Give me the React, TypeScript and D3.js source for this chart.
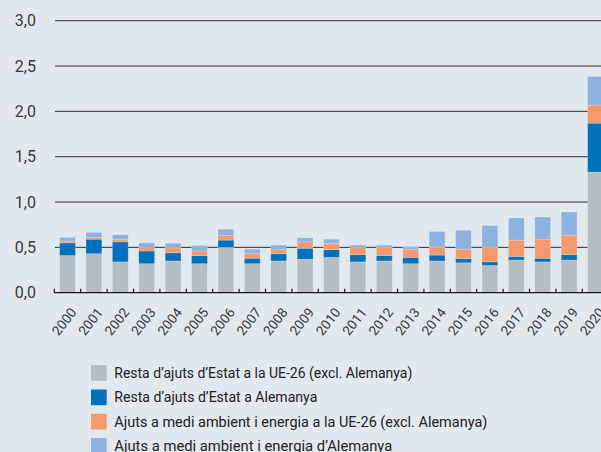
import React from "react";
import * as d3 from "d3";

const years = ["2000","2001","2002","2003","2004","2005","2006","2007","2008","2009","2010","2011","2012","2013","2014","2015","2016","2017","2018","2019","2020"];
const restaUE26 = [0.41,0.43,0.34,0.32,0.35,0.32,0.50,0.32,0.35,0.37,0.39,0.34,0.35,0.32,0.35,0.33,0.30,0.36,0.34,0.36,1.33];
const restaAlemanya = [0.14,0.16,0.22,0.14,0.09,0.09,0.08,0.06,0.08,0.12,0.085,0.08,0.06,0.07,0.065,0.045,0.04,0.04,0.04,0.06,0.54];
const mediUE26 = [0.02,0.02,0.03,0.04,0.055,0.05,0.05,0.05,0.05,0.07,0.07,0.08,0.09,0.085,0.09,0.105,0.16,0.18,0.21,0.21,0.20];
const mediAlemanya = [0.04,0.055,0.05,0.05,0.05,0.06,0.07,0.05,0.045,0.045,0.045,0.025,0.025,0.03,0.17,0.21,0.24,0.245,0.245,0.26,0.315];
const seriesNames = [
  "Resta d\u2019ajuts d\u2019Estat a la UE-26 (excl. Alemanya)",
  "Resta d\u2019ajuts d\u2019Estat a Alemanya",
  "Ajuts a medi ambient i energia a la UE-26 (excl. Alemanya)",
  "Ajuts a medi ambient i energia d\u2019Alemanya",
];
const colors = ["#b3bdc3", "#0071ba", "#f4996c", "#8db2df"];
const yTicks = [0, 0.5, 1, 1.5, 2, 2.5, 3];
const legendWidths = [298, 203, 373, 278];

export default function App() {
  const W = 601, H = 452;
  const y = d3.scaleLinear().domain([0, 3]).range([292.7, 20.7]);
  const x = d3.scaleBand().domain(years).range([54.3, 54.3 + 21 * 26.4]).paddingInner(0.4).paddingOuter(0.2);
  const step = x.step();
  const table = years.map((yr, i) => ({ year: yr, s0: restaUE26[i], s1: restaAlemanya[i], s2: mediUE26[i], s3: mediAlemanya[i] }));
  const stack = d3.stack<any>().keys(["s0", "s1", "s2", "s3"])(table);
  const fmt = (v: number) => v.toFixed(1).replace(".", ",");
  const font = "Roboto, 'Open Sans', sans-serif";
  return (
    <svg width={W} height={H} style={{ position: "absolute", left: 0, top: 0, background: "#e1e9ef" }}>
      <rect x={0} y={0} width={W} height={H} fill="#e1e9ef" />
      {yTicks.map((t) => (
        <g key={t}>
          {t > 0 && <line x1={55} x2={W} y1={y(t)} y2={y(t)} stroke="#2e2e2e" strokeWidth={1} />}
          <text x={36} y={y(t)} dy="0.35em" textAnchor="end" fontSize={16} fill="#3a3a3a" fontFamily={font}>{fmt(t)}</text>
        </g>
      ))}
      {stack.map((s, si) => (
        <g key={si} fill={colors[si]}>
          {s.map((d: any, i: number) => (
            <rect key={i} x={x(years[i])} width={x.bandwidth()} y={y(d[1])} height={y(d[0]) - y(d[1])}
              stroke="rgba(255,255,255,0.25)" strokeWidth={0.8} />
          ))}
        </g>
      ))}
      <line x1={54} x2={W} y1={y(0)} y2={y(0)} stroke="#1a1a1a" strokeWidth={1.3} />
      {d3.range(years.length + 1).map((i) => {
        const tx = 54.3 + i * step;
        return <line key={i} x1={tx} x2={tx} y1={y(0)} y2={y(0) - 4} stroke="#1a1a1a" strokeWidth={1.2} />;
      })}
      {years.map((yr) => {
        const cx = (x(yr) as number) + x.bandwidth() / 2;
        return (
          <text key={yr} transform={`translate(${cx + 6},${y(0) + 17}) rotate(-52)`} textAnchor="end" dy="0.35em"
            fontSize={13.5} fill="#3a3a3a" fontFamily={font}>{yr}</text>
        );
      })}
      {seriesNames.map((n, i) => {
        const ly = 373 + i * 24.3;
        return (
          <g key={i}>
            <rect x={91} y={ly - 7.8} width={15.7} height={15.7} fill={colors[i]} />
            <text x={114.3} y={ly} dy="0.35em" fontSize={14.5} fill="#222" fontFamily={font}
              textLength={legendWidths[i]} lengthAdjust="spacingAndGlyphs">{n}</text>
          </g>
        );
      })}
    </svg>
  );
}
